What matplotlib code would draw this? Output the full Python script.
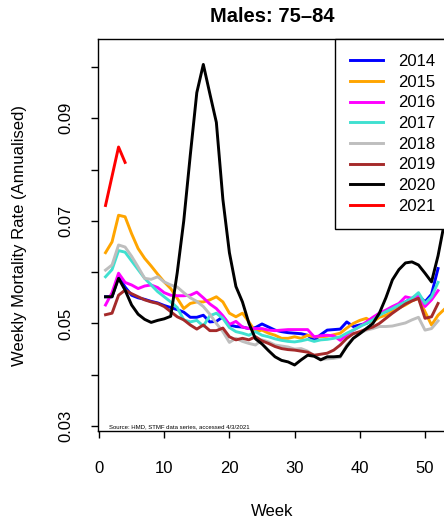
import matplotlib
matplotlib.use("Agg")
import matplotlib.pyplot as plt
import numpy as np

plt.rcParams['font.family'] = ['Liberation Sans', 'DejaVu Sans']

years = ['2014', '2015', '2016', '2017', '2018', '2019', '2020', '2021']
colors = ['#0000FF', '#FFA500', '#FF00FF', '#40E0D0', '#BEBEBE', '#A52A2A', '#000000', '#FF0000']

r2014 = [0.0552, 0.0552, 0.0591, 0.0571, 0.0555, 0.0550, 0.0547, 0.0543, 0.0540, 0.0535,
         0.0531, 0.0527, 0.0522, 0.0512, 0.0512, 0.0516, 0.0503, 0.0504, 0.0513, 0.0497,
         0.0494, 0.0493, 0.0490, 0.0492, 0.0499, 0.0493, 0.0487, 0.0484, 0.0482, 0.0481,
         0.0480, 0.0477, 0.0467, 0.0478, 0.0487, 0.0488, 0.0489, 0.0503, 0.0494, 0.0497,
         0.0500, 0.0507, 0.0520, 0.0523, 0.0529, 0.0536, 0.0542, 0.0549, 0.0555, 0.0542,
         0.0557, 0.0607]
r2015 = [0.0638, 0.0659, 0.0711, 0.0708, 0.0675, 0.0646, 0.0627, 0.0612, 0.0596, 0.0581,
         0.0568, 0.0549, 0.0529, 0.0539, 0.0542, 0.0542, 0.0546, 0.0552, 0.0542, 0.0520,
         0.0513, 0.0520, 0.0503, 0.0484, 0.0487, 0.0481, 0.0477, 0.0471, 0.0471, 0.0474,
         0.0471, 0.0477, 0.0474, 0.0474, 0.0475, 0.0478, 0.0481, 0.0491, 0.0500, 0.0506,
         0.0510, 0.0503, 0.0512, 0.0516, 0.0523, 0.0530, 0.0536, 0.0544, 0.0549, 0.0523,
         0.0497, 0.0516, 0.0528]
r2016 = [0.0536, 0.0560, 0.0598, 0.0580, 0.0575, 0.0568, 0.0573, 0.0575, 0.0570, 0.0560,
         0.0555, 0.0554, 0.0554, 0.0555, 0.0561, 0.0550, 0.0538, 0.0529, 0.0515, 0.0498,
         0.0504, 0.0493, 0.0490, 0.0490, 0.0490, 0.0487, 0.0486, 0.0487, 0.0488, 0.0488,
         0.0488, 0.0488, 0.0474, 0.0476, 0.0477, 0.0476, 0.0467, 0.0478, 0.0487, 0.0494,
         0.0503, 0.0512, 0.0520, 0.0526, 0.0533, 0.0539, 0.0552, 0.0549, 0.0555, 0.0533,
         0.0546, 0.0564]
r2017 = [0.0591, 0.0605, 0.0642, 0.0639, 0.0622, 0.0605, 0.0588, 0.0575, 0.0562, 0.0552,
         0.0542, 0.0531, 0.0507, 0.0503, 0.0506, 0.0495, 0.0515, 0.0520, 0.0510, 0.0492,
         0.0484, 0.0481, 0.0477, 0.0484, 0.0477, 0.0474, 0.0470, 0.0467, 0.0465, 0.0464,
         0.0466, 0.0469, 0.0465, 0.0468, 0.0469, 0.0471, 0.0474, 0.0481, 0.0487, 0.0494,
         0.0500, 0.0507, 0.0516, 0.0523, 0.0529, 0.0536, 0.0542, 0.0549, 0.0560, 0.0539,
         0.0552, 0.0580]
r2018 = [0.0604, 0.0614, 0.0653, 0.0649, 0.0631, 0.0610, 0.0588, 0.0586, 0.0591, 0.0581,
         0.0575, 0.0571, 0.0560, 0.0550, 0.0543, 0.0533, 0.0518, 0.0500, 0.0484, 0.0463,
         0.0471, 0.0465, 0.0461, 0.0458, 0.0468, 0.0464, 0.0458, 0.0456, 0.0454, 0.0450,
         0.0451, 0.0446, 0.0437, 0.0430, 0.0431, 0.0432, 0.0434, 0.0458, 0.0471, 0.0481,
         0.0487, 0.0490, 0.0494, 0.0494, 0.0495, 0.0498, 0.0501, 0.0507, 0.0512, 0.0487,
         0.0490, 0.0505]
r2019 = [0.0517, 0.0520, 0.0555, 0.0565, 0.0558, 0.0552, 0.0546, 0.0542, 0.0539, 0.0533,
         0.0523, 0.0513, 0.0507, 0.0497, 0.0489, 0.0497, 0.0486, 0.0486, 0.0491, 0.0474,
         0.0468, 0.0471, 0.0468, 0.0474, 0.0466, 0.0461, 0.0455, 0.0451, 0.0449, 0.0448,
         0.0446, 0.0444, 0.0438, 0.0440, 0.0442, 0.0448, 0.0458, 0.0471, 0.0480, 0.0484,
         0.0489, 0.0493, 0.0500, 0.0510, 0.0520, 0.0529, 0.0538, 0.0544, 0.0549, 0.0510,
         0.0513, 0.0539]
r2020 = [0.0552, 0.0552, 0.0588, 0.0565, 0.0536, 0.0518, 0.0508, 0.0502, 0.0506, 0.0509,
         0.0514, 0.0599, 0.0700, 0.0828, 0.0950, 0.1005, 0.0948, 0.0892, 0.0742, 0.0638,
         0.0572, 0.0542, 0.0500, 0.0470, 0.0460, 0.0447, 0.0435, 0.0428, 0.0425, 0.0419,
         0.0429, 0.0438, 0.0436, 0.0429, 0.0435, 0.0435, 0.0436, 0.0455, 0.0471, 0.0480,
         0.0490, 0.0500, 0.0520, 0.0550, 0.0585, 0.0605, 0.0618, 0.0620, 0.0614, 0.0598,
         0.0581, 0.0632, 0.0698]
r2021 = [0.0730, 0.0787, 0.0844, 0.0814]

series = [r2014, r2015, r2016, r2017, r2018, r2019, r2020, r2021]

xticks = [0, 10, 20, 30, 40, 50]
yticks = [0.03, 0.04, 0.05, 0.06, 0.07, 0.08, 0.09, 0.10]
ytick_labels = ['0.03', '', '0.05', '', '0.07', '', '0.09', '']

title = 'Males: 75\u201384'
xlabel = 'Week'
ylabel = 'Weekly Mortality Rate (Annualised)'
source = 'Source: HMD, STMF data series, accessed 4/3/2021'

W, H = 444, 521
fig = plt.figure(figsize=(W / 100, H / 100), dpi=100)
ax = fig.add_axes([98 / W, 90 / H, 348 / W, 392 / H])

for yr, vals, col in zip(years, series, colors):
    wk = np.arange(1, len(vals) + 1)
    ax.plot(wk, vals, color=col, lw=2.1, label=yr, solid_joinstyle='round')

ax.set_xlim(-0.153, 53.22)
ax.set_ylim(0.02903, 0.10546)
ax.set_xticks(xticks)
ax.set_xticklabels([str(t) for t in xticks])
ax.set_yticks(yticks)
ax.set_yticklabels(ytick_labels, rotation=90, va='center')
ax.tick_params(axis='both', direction='out', length=5, width=1.0, labelsize=12, color='black')
ax.tick_params(axis='x', pad=16.5)
ax.tick_params(axis='y', pad=12.5)
for sp in ax.spines.values():
    sp.set_linewidth(1.0)
    sp.set_color('black')

ax.text(11 / 348, 4 / 392, source, transform=ax.transAxes, fontsize=4.3,
        ha='left', va='center')

fig.text(272 / W, 1 - 16 / H, title, ha='center', va='center', fontsize=14.5, fontweight='bold')
fig.text(272 / W, 10 / H, xlabel, ha='center', va='center', fontsize=12)
fig.text(20 / W, 1 - 235 / H, ylabel, ha='center', va='center', rotation=90, fontsize=12)

leg = ax.legend(loc='upper left', bbox_to_anchor=(335 / W, 1 - 39 / H),
                bbox_transform=fig.transFigure, fontsize=12, frameon=True,
                fancybox=False, edgecolor='black', framealpha=1,
                handlelength=1.98, handletextpad=0.9, borderpad=0.9,
                labelspacing=0.34, borderaxespad=0)
leg.get_frame().set_linewidth(1.0)

fig.savefig('out.png', dpi=100)
